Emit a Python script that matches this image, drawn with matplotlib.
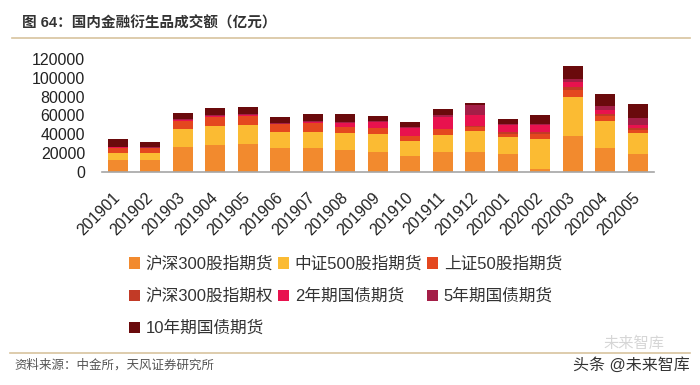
import numpy as np
import matplotlib
matplotlib.use('Agg')
import matplotlib.pyplot as plt
from matplotlib.lines import Line2D

plt.rcParams['font.family'] = ['Liberation Sans', 'Noto Sans CJK SC', 'DejaVu Sans']
plt.rcParams['axes.unicode_minus'] = False

# ---- data (亿元) ----
months = ['201901', '201902', '201903', '201904', '201905', '201906', '201907', '201908', '201909',
          '201910', '201911', '201912', '202001', '202002', '202003', '202004', '202005']
series_names = ['沪深300股指期货', '中证500股指期货', '上证50股指期货', '沪深300股指期权',
                '2年期国债期货', '5年期国债期货', '10年期国债期货']

hs300_fut = [12300, 12300, 26200, 28400, 29100, 24800, 25500, 23000, 20500,
             16600, 20500, 21200, 18400, 2700, 38000, 25500, 18400]
zz500_fut = [7800, 7800, 18900, 20300, 21000, 17800, 17100, 17900, 19600,
             16000, 18500, 22500, 18800, 31800, 41400, 28500, 23100]
sz50_fut = [5400, 5000, 9300, 9900, 9600, 8200, 9600, 7000, 6100,
            5400, 6100, 4000, 3400, 6000, 7500, 5000, 3200]
hs300_opt = [0, 0, 0, 0, 0, 0, 0, 0, 0,
             0, 0, 1000, 2000, 2100, 3200, 2500, 1500]
tb2 = [300, 300, 300, 300, 300, 300, 400, 3700, 6400,
       8200, 12900, 11800, 7200, 7200, 6000, 4300, 3600]
tb5 = [700, 600, 1000, 1200, 1200, 1000, 1400, 1400, 1000,
       1100, 2000, 11000, 1200, 1300, 2600, 4200, 7100]
tb10 = [7900, 5900, 6600, 7800, 7500, 5900, 7500, 8200, 5800,
        5700, 6900, 1500, 5500, 9400, 14200, 12600, 15300]

all_series = [hs300_fut, zz500_fut, sz50_fut, hs300_opt, tb2, tb5, tb10]
colors = ['#F28A2E', '#FBBB33', '#E4471F', '#C23A26', '#E8124E', '#A41E47', '#6A0A0C']

fig = plt.figure(figsize=(7, 3.85), dpi=100)
fig.set_facecolor('white')
ax = fig.add_axes([0.1453, 0.5545, 0.789, 0.2914])

x = np.arange(len(months))
bottom = np.zeros(len(months))
handles = []
for name, vals, c in zip(series_names, all_series, colors):
    vals = np.array(vals, dtype=float)
    b = ax.bar(x, vals, bottom=bottom, width=0.615, color=c, label=name, linewidth=0)
    handles.append(b)
    bottom += vals

ax.set_xlim(-0.5, len(months) - 0.5)
ax.set_ylim(0, 120000)
ax.set_yticks(np.arange(0, 120001, 20000))
ax.set_yticklabels([str(v) for v in range(0, 120001, 20000)], fontsize=11.5, color='#222222')
ax.set_xticks(x)
ax.set_xticklabels(months, fontsize=11.5, color='#222222', rotation=45,
                   ha='right', va='center', rotation_mode='anchor')
ax.tick_params(axis='y', length=0, pad=12)
ax.tick_params(axis='x', length=0, pad=17)
for s in ['top', 'right', 'left']:
    ax.spines[s].set_visible(False)
ax.spines['bottom'].set_color('#A6A6A6')
ax.spines['bottom'].set_linewidth(1.2)

# legend, row-major order like the original
order = [0, 3, 6, 1, 4, 2, 5]
leg = fig.legend([handles[i] for i in order], [series_names[i] for i in order],
                 loc='upper left', bbox_to_anchor=(0.184, 0.334), ncol=3, frameon=False,
                 fontsize=12, handlelength=0.65, handleheight=0.65, handletextpad=0.35,
                 columnspacing=0.3, labelspacing=1.0, borderaxespad=0, borderpad=0)
for t in leg.get_texts():
    t.set_color('#333333')

# title and decorations
fig.text(0.031, 0.938, '图 64：国内金融衍生品成交额（亿元）', fontsize=10.5, fontweight='bold',
         color='#333333', ha='left', va='center')
fig.add_artist(Line2D([0.017, 0.985], [0.902, 0.902], color='#D8C49E', linewidth=1.2))
fig.add_artist(Line2D([0.014, 0.985], [0.084, 0.084], color='#D8C49E', linewidth=1.2))
fig.text(0.021, 0.052, '资料来源：中金所，天风证券研究所', fontsize=9, color='#555555',
         ha='left', va='center')
fig.text(0.905, 0.108, '未来智库', fontsize=11, color='#CCCCCC', ha='center', va='center', alpha=0.8)
fig.text(0.985, 0.052, '头条 @未来智库', fontsize=11.5, color='#333333', ha='right', va='center')

fig.savefig('out.png', dpi=100, facecolor='white')
